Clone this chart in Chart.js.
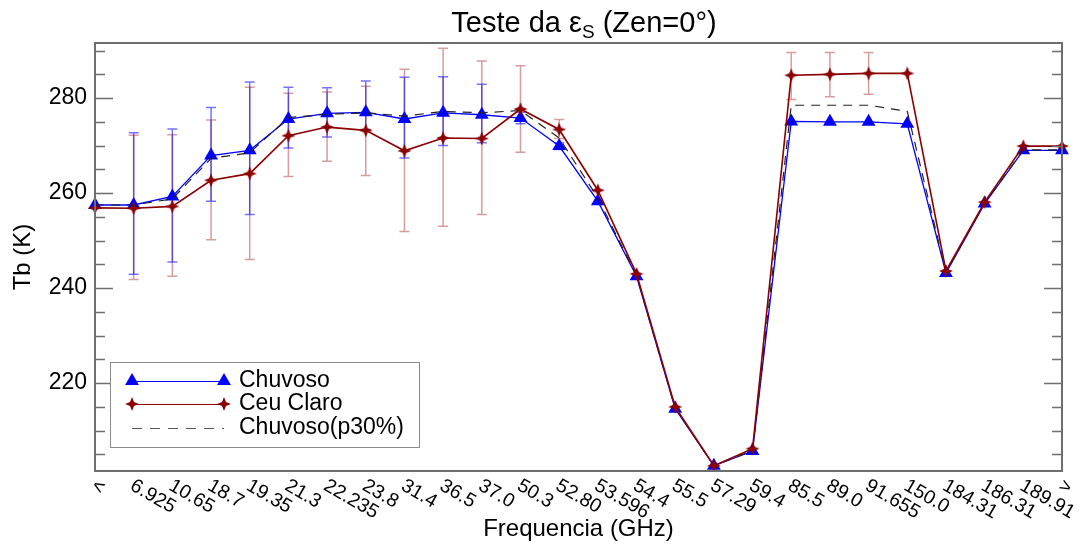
<!DOCTYPE html>
<html>
<head>
<meta charset="utf-8">
<script src="https://cdn.jsdelivr.net/npm/chart.js@4.4.0/dist/chart.umd.min.js"></script>
<style>
html, body { margin: 0; padding: 0; background: #fff; }
#wrap { width: 1084px; height: 550px; position: relative; }
</style>
</head>
<body>
<div id="wrap"><canvas id="c"></canvas></div>
<script>
// dados
const freqLabels = ['<', '6.925', '10.65', '18.7', '19.35', '21.3', '22.235', '23.8', '31.4', '36.5', '37.0', '50.3',
    '52.80', '53.596', '54.4', '55.5', '57.29', '59.4', '85.5', '89.0', '91.655', '150.0', '184.31', '186.31', '189.91', '>'];

const chuvoso = [257.5, 257.5, 259.3, 267.9, 269.0, 275.6, 276.8, 277.0, 275.6, 276.9, 276.5, 275.8,
    269.9, 258.3, 242.5, 214.6, 202.6, 205.7, 275.1, 275.0, 275.0, 274.6, 243.2, 257.8, 269.0, 269.0];
const ceuClaro = [256.9, 256.8, 257.2, 262.7, 264.1, 272.1, 273.9, 273.2, 268.9, 271.6, 271.5, 277.7,
    273.4, 260.6, 243.0, 215.0, 202.6, 206.2, 284.8, 285.0, 285.2, 285.2, 243.6, 258.1, 269.9, 269.9];
const chuvosoP30 = [257.5, 257.5, 258.8, 267.3, 268.5, 275.9, 276.6, 276.9, 276.2, 277.2, 276.9, 277.4,
    271.6, 259.0, 242.6, 214.7, 202.6, 205.8, 278.5, 278.5, 278.5, 277.2, 243.3, 257.9, 269.1, 269.1];

// barras de erro (min / max)
const chuvosoLow = [null, 242.9, 245.5, 258.3, 255.5, 269.5, 271.8, 273.4, 267.4, 270.0, 270.6, 274.6,
    269.2, null, null, null, null, null, null, null, null, null, null, null, null, null];
const chuvosoHigh = [null, 272.7, 273.5, 278.0, 283.4, 282.3, 282.2, 283.6, 284.4, 284.5, 282.9, 277.0,
    270.6, null, null, null, null, null, null, null, null, null, null, null, null, null];
const ceuLow = [null, 241.8, 242.5, 250.2, 246.0, 263.5, 266.7, 263.7, 251.9, 253.0, 255.5, 268.6,
    271.5, null, null, null, null, null, 279.7, 280.3, 280.8, null, null, null, null, null];
const ceuHigh = [null, 272.2, 272.3, 275.4, 282.3, 281.0, 281.3, 282.5, 286.1, 290.5, 287.8, 286.8,
    275.5, null, null, null, null, null, 289.6, 289.6, 289.6, null, null, null, null, null];

const yTicks = [205, 210, 215, 220, 225, 230, 235, 240, 245, 250, 255, 260, 265, 270, 275, 280, 285, 290];
const yLabeled = [220, 240, 260, 280];

const FONT = '"Liberation Sans", Arial, Helvetica, sans-serif';
const AXIS = '#6e6e6e';

function makeStar(r, color) {
    const c = document.createElement('canvas');
    c.width = c.height = r * 2 + 2;
    const g = c.getContext('2d');
    const m = r + 1;
    g.fillStyle = color;
    g.beginPath();
    for (let i = 0; i < 8; i++) {
        const a = i * Math.PI / 4 - Math.PI / 2;
        const rr = i % 2 ? r * 0.4 : r;
        g.lineTo(m + rr * Math.cos(a), m + rr * Math.sin(a));
    }
    g.closePath();
    g.fill();
    return c;
}
const star = makeStar(7, '#8b0000');

function drawTriangle(ctx, x, y, r, color) {
    const side = r * Math.sqrt(3);
    const h = side * Math.sqrt(3) / 2;
    ctx.fillStyle = color;
    ctx.beginPath();
    ctx.moveTo(x, y - h * 2 / 3);
    ctx.lineTo(x + side / 2, y + h / 3);
    ctx.lineTo(x - side / 2, y + h / 3);
    ctx.closePath();
    ctx.fill();
}

function drawErr(ctx, xs, ys, low, high, color) {
    ctx.save();
    ctx.strokeStyle = color;
    ctx.lineWidth = 1.5;
    low.forEach((lo, i) => {
        if (lo == null) return;
        const px = xs.getPixelForValue(i);
        const y1 = ys.getPixelForValue(lo), y2 = ys.getPixelForValue(high[i]);
        ctx.beginPath();
        ctx.moveTo(px, y1); ctx.lineTo(px, y2);
        ctx.moveTo(px - 5, y1); ctx.lineTo(px + 5, y1);
        ctx.moveTo(px - 5, y2); ctx.lineTo(px + 5, y2);
        ctx.stroke();
    });
    ctx.restore();
}

const decor = {
    id: 'decor',
    beforeDatasetsDraw(chart) {
        const { ctx, scales: { x, y } } = chart;
        drawErr(ctx, x, y, ceuLow, ceuHigh, 'rgba(160,20,20,0.42)');
        drawErr(ctx, x, y, chuvosoLow, chuvosoHigh, 'rgba(0,0,255,0.55)');
    },
    afterDraw(chart) {
        const { ctx, chartArea: a, scales: { x, y } } = chart;
        ctx.save();

        // moldura e marcas
        ctx.strokeStyle = AXIS;
        ctx.lineWidth = 2;
        ctx.strokeRect(a.left, a.top, a.right - a.left, a.bottom - a.top);
        ctx.lineWidth = 1.5;
        yTicks.forEach(v => {
            const py = Math.round(y.getPixelForValue(v)) + 0.5;
            const len = yLabeled.includes(v) ? 18 : 10;
            ctx.beginPath();
            ctx.moveTo(a.left, py); ctx.lineTo(a.left + len, py);
            ctx.moveTo(a.right, py); ctx.lineTo(a.right - len, py);
            ctx.stroke();
        });

        // rótulos do eixo y
        ctx.fillStyle = '#000';
        ctx.font = '23px ' + FONT;
        ctx.textAlign = 'right';
        ctx.textBaseline = 'middle';
        yLabeled.forEach(v => ctx.fillText(String(v), a.left - 8, y.getPixelForValue(v)));

        // rótulos do eixo x (inclinados)
        ctx.font = '19.5px ' + FONT;
        ctx.textAlign = 'left';
        ctx.textBaseline = 'top';
        freqLabels.forEach((lab, i) => {
            ctx.save();
            ctx.translate(x.getPixelForValue(i) + 3, a.bottom + 5);
            ctx.rotate(Math.PI / 6);
            ctx.fillText(lab, 0, 0);
            ctx.restore();
        });

        // títulos dos eixos
        ctx.font = '24px ' + FONT;
        ctx.textAlign = 'center';
        ctx.textBaseline = 'middle';
        ctx.fillText('Frequencia (GHz)', (a.left + a.right) / 2, 529);
        ctx.save();
        ctx.translate(23, (a.top + a.bottom) / 2);
        ctx.rotate(-Math.PI / 2);
        ctx.fillText('Tb (K)', 0, 0);
        ctx.restore();

        // título com subscrito
        const p1 = 'Teste da ε', sub = 'S', p2 = ' (Zen=0°)';
        ctx.textAlign = 'left';
        ctx.textBaseline = 'alphabetic';
        ctx.font = '29px ' + FONT;
        const w1 = ctx.measureText(p1).width, w3 = ctx.measureText(p2).width;
        ctx.font = '19px ' + FONT;
        const w2 = ctx.measureText(sub).width;
        let tx = 584 - (w1 + w2 + w3) / 2;
        ctx.font = '29px ' + FONT;
        ctx.fillText(p1, tx, 32);
        ctx.font = '19px ' + FONT;
        ctx.fillText(sub, tx + w1, 38);
        ctx.font = '29px ' + FONT;
        ctx.fillText(p2, tx + w1 + w2, 32);

        // legenda
        ctx.fillStyle = '#fff';
        ctx.fillRect(110, 362, 309, 85);
        ctx.strokeStyle = '#8a8a8a';
        ctx.lineWidth = 1;
        ctx.strokeRect(110.5, 362.5, 309, 85);
        const rows = [
            { label: 'Chuvoso', y: 381, color: '#0000ff', mark: 'tri' },
            { label: 'Ceu Claro', y: 404, color: '#8b0000', mark: 'star' },
            { label: 'Chuvoso(p30%)', y: 428, color: '#555', mark: null },
        ];
        rows.forEach(r => {
            ctx.strokeStyle = r.color;
            ctx.lineWidth = 1;
            ctx.setLineDash(r.mark ? [] : [10, 8]);
            ctx.beginPath();
            ctx.moveTo(132, r.y + 0.5); ctx.lineTo(224, r.y + 0.5);
            ctx.stroke();
            ctx.setLineDash([]);
            [132, 224].forEach(px => {
                if (r.mark === 'tri') drawTriangle(ctx, px, r.y, 8, r.color);
                if (r.mark === 'star') ctx.drawImage(star, px - star.width / 2, r.y - star.height / 2);
            });
            ctx.fillStyle = '#000';
            ctx.font = '23px ' + FONT;
            ctx.textBaseline = 'middle';
            ctx.fillText(r.label, 239, r.y);
        });

        ctx.restore();
    }
};

new Chart(document.getElementById('c'), {
    type: 'line',
    data: {
        labels: freqLabels,
        datasets: [
            {
                label: 'Chuvoso',
                data: chuvoso,
                borderColor: '#0000ff',
                backgroundColor: '#0000ff',
                borderWidth: 1.3,
                pointStyle: 'triangle',
                pointRadius: 8,
                pointBorderWidth: 0,
                order: 2,
            },
            {
                label: 'Ceu Claro',
                data: ceuClaro,
                borderColor: '#8b0000',
                backgroundColor: '#8b0000',
                borderWidth: 1.6,
                pointStyle: star,
                pointRadius: 7,
                order: 0,
            },
            {
                label: 'Chuvoso(p30%)',
                data: chuvosoP30,
                borderColor: '#222',
                borderWidth: 1.2,
                borderDash: [9, 7],
                pointRadius: 0,
                order: 1,
            },
        ],
    },
    options: {
        responsive: true,
        maintainAspectRatio: false,
        animation: false,
        layout: { padding: { left: 95, right: 22, top: 43, bottom: 79 } },
        plugins: { legend: { display: false }, tooltip: { enabled: false } },
        scales: {
            x: { display: false, offset: false },
            y: { display: false, min: 201.5, max: 291.6 },
        },
    },
    plugins: [decor],
});
</script>
</body>
</html>
